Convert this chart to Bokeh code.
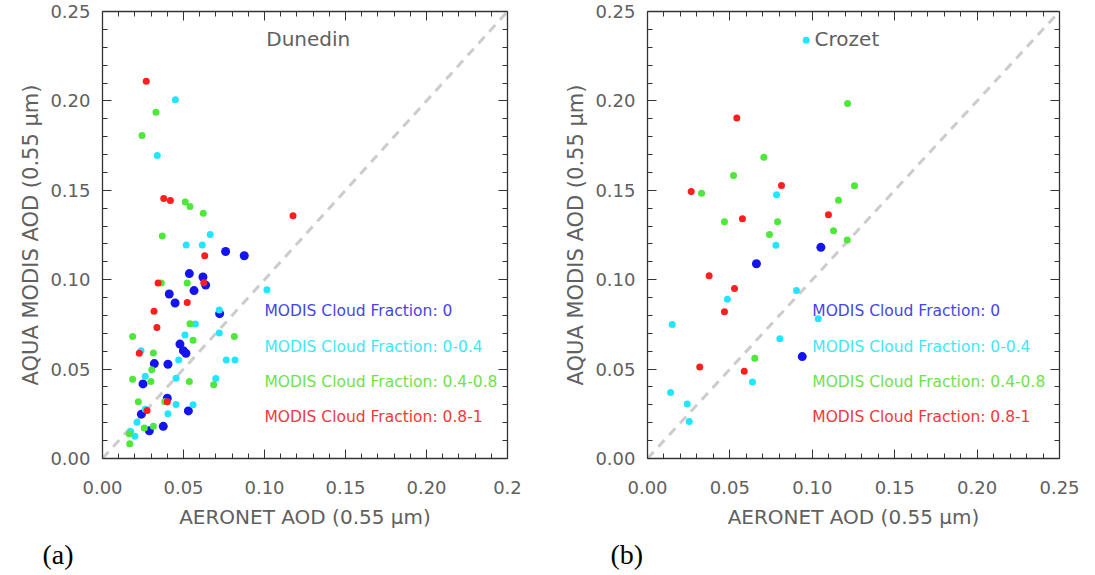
from bokeh.plotting import figure
from bokeh.layouts import row
from bokeh.models import Label, Title, LinearAxis, FixedTicker, CustomJSTickFormatter, Range1d
from bokeh.embed import file_html
from bokeh.resources import INLINE

# ---------------- data ----------------
tick_values = [0.0, 0.05, 0.10, 0.15, 0.20, 0.25]
minor_values = [0.01, 0.02, 0.03, 0.04, 0.06, 0.07, 0.08, 0.09, 0.11, 0.12, 0.13, 0.14,
                0.16, 0.17, 0.18, 0.19, 0.21, 0.22, 0.23, 0.24]
y_tick_labels = ["0.00", "0.05", "0.10", "0.15", "0.20", "0.25"]
x_tick_labels_a = ["0.00", "0.05", "0.10", "0.15", "0.20", "0.2"]
x_tick_labels_b = ["0.00", "0.05", "0.10", "0.15", "0.20", "0.25"]
one_to_one = [0.0, 0.25]

categories = ["MODIS Cloud Fraction: 0", "MODIS Cloud Fraction: 0-0.4",
              "MODIS Cloud Fraction: 0.4-0.8", "MODIS Cloud Fraction: 0.8-1"]

# Dunedin
dun_blue_x = [0.076, 0.0875, 0.0536, 0.062, 0.0637, 0.0565, 0.0412, 0.0448, 0.0723, 0.0478,
              0.0499, 0.0515, 0.032, 0.0404, 0.025, 0.040, 0.024, 0.053, 0.0375, 0.0289]
dun_blue_y = [0.1158, 0.1134, 0.1034, 0.1015, 0.097, 0.0939, 0.092, 0.087, 0.081, 0.064,
              0.0603, 0.0588, 0.0531, 0.0527, 0.0417, 0.0337, 0.0248, 0.0266, 0.018, 0.0155]
dun_cyan_x = [0.045, 0.0338, 0.0665, 0.0517, 0.0616, 0.1015, 0.0721, 0.0573, 0.0509, 0.0721,
              0.0238, 0.047, 0.0764, 0.0818, 0.0264, 0.0454, 0.0699, 0.0454, 0.0559, 0.0264,
              0.0404, 0.0213, 0.0174, 0.020]
dun_cyan_y = [0.2006, 0.1694, 0.1253, 0.1194, 0.1194, 0.0944, 0.0831, 0.0752, 0.0691, 0.0702,
              0.0603, 0.0551, 0.0551, 0.0551, 0.046, 0.0449, 0.0447, 0.0302, 0.030, 0.0276,
              0.025, 0.0203, 0.0151, 0.0125]
dun_green_x = [0.033, 0.0244, 0.0511, 0.054, 0.0622, 0.0369, 0.0363, 0.0523, 0.054, 0.0186,
               0.0559, 0.0814, 0.0314, 0.0304, 0.0186, 0.0299, 0.0536, 0.0686, 0.0221, 0.0384,
               0.0258, 0.0314, 0.0165, 0.0168]
dun_green_y = [0.1937, 0.1806, 0.1434, 0.141, 0.1372, 0.1244, 0.0981, 0.0981, 0.0754, 0.0682,
               0.0661, 0.0682, 0.059, 0.0496, 0.0443, 0.043, 0.043, 0.0412, 0.0318, 0.0318,
               0.0171, 0.018, 0.0138, 0.0082]
dun_red_x = [0.027, 0.0378, 0.0419, 0.0631, 0.1176, 0.0343, 0.0625, 0.0523, 0.0318, 0.0336,
             0.0227, 0.040, 0.0275]
dun_red_y = [0.211, 0.1454, 0.1443, 0.1134, 0.1358, 0.0981, 0.0983, 0.0872, 0.0823, 0.0732,
             0.0588, 0.0318, 0.0268]

# Crozet
cro_blue_x = [0.1052, 0.0661, 0.0939]
cro_blue_y = [0.1181, 0.1089, 0.057]
cro_cyan_x = [0.0963, 0.0783, 0.0779, 0.0904, 0.0485, 0.015, 0.1036, 0.0803, 0.0637, 0.014,
              0.0241, 0.0253]
cro_cyan_y = [0.2339, 0.1475, 0.1192, 0.094, 0.089, 0.075, 0.0782, 0.067, 0.0428, 0.0369,
              0.0305, 0.0207]
cro_green_x = [0.1214, 0.0706, 0.0522, 0.0328, 0.1159, 0.0467, 0.0789, 0.1129, 0.074, 0.1212,
               0.1256, 0.0651]
cro_green_y = [0.1985, 0.1685, 0.1583, 0.1484, 0.1445, 0.1324, 0.1324, 0.1274, 0.1253, 0.1222,
               0.1525, 0.056]
cro_red_x = [0.0542, 0.0265, 0.0813, 0.1098, 0.0576, 0.0374, 0.0528, 0.0467, 0.0317, 0.0587]
cro_red_y = [0.1905, 0.1493, 0.1527, 0.1363, 0.1341, 0.1022, 0.0951, 0.0821, 0.0512, 0.0488]

# ---------------- style ----------------
FONT = "DejaVu Sans"
GRAY = "#606060"
point_colors = ["#1414f0", "#22e6ff", "#4ee83a", "#ff1e1e"]
text_colors = ["#4646e6", "#3ee8f4", "#70e24c", "#f03a3a"]
point_sizes = [9, 7, 7, 7]
legend_x = 0.100
legend_y = [0.0823, 0.0622, 0.0426, 0.0231]


def style_axis(ax, labels=None, label_size="19px"):
    ax.ticker = FixedTicker(ticks=tick_values, minor_ticks=minor_values)
    ax.major_tick_in = 9
    ax.major_tick_out = 0
    ax.minor_tick_in = 5
    ax.minor_tick_out = 0
    ax.axis_line_color = "#333333"
    ax.major_tick_line_color = "#333333"
    ax.minor_tick_line_color = "#333333"
    ax.axis_line_width = 1.3
    if labels is None:
        ax.formatter = CustomJSTickFormatter(code="return ''")
        ax.major_label_standoff = 0
    else:
        ax.major_label_overrides = {v: l for v, l in zip(tick_values, labels)}
        ax.major_label_text_font = FONT
        ax.major_label_text_font_size = "18px"
        ax.major_label_text_color = GRAY
        ax.axis_label_text_font = FONT
        ax.axis_label_text_font_size = label_size
        ax.axis_label_text_color = GRAY
        ax.axis_label_text_font_style = "normal"


def make_panel(name, title_x, xs, ys, xlabels, width, bl, br, tag, tag_offset):
    p = figure(width=width, height=575, output_backend="svg", toolbar_location=None,
               x_range=Range1d(0, 0.25), y_range=Range1d(0, 0.25),
               min_border_left=bl, min_border_right=br, min_border_top=11,
               min_border_bottom=117, x_axis_label="AERONET AOD (0.55 μm)",
               y_axis_label="AQUA MODIS AOD (0.55 μm)")
    p.grid.visible = False
    p.outline_line_color = None
    p.background_fill_color = "white"
    p.border_fill_color = "white"
    style_axis(p.xaxis[0], xlabels, "20px")
    style_axis(p.yaxis[0], y_tick_labels, "21px")
    p.yaxis[0].major_label_standoff = 12
    p.yaxis[0].axis_label_standoff = 4
    p.xaxis[0].major_label_standoff = 22
    p.xaxis[0].axis_label_standoff = 8
    top = LinearAxis()
    style_axis(top)
    p.add_layout(top, "above")
    right = LinearAxis()
    style_axis(right)
    p.add_layout(right, "right")

    p.line(one_to_one, one_to_one, line_color="#cccccc", line_width=3, line_dash="9 7")
    for i in range(4):
        p.scatter(xs[i], ys[i], size=point_sizes[i], color=point_colors[i], line_width=0)
        p.add_layout(Label(x=legend_x, y=legend_y[i], text=categories[i],
                           text_color=text_colors[i], text_font=FONT,
                           text_font_size="15.5px", text_baseline="middle"))
    p.add_layout(Label(x=title_x, y=0.2346, text=name, text_color=GRAY, text_font=FONT,
                       text_font_size="20px", text_align="center", text_baseline="middle"))
    p.add_layout(Title(text=tag, align="left", offset=tag_offset, text_font="Liberation Serif",
                       text_font_size="28px", text_font_style="normal", text_color="black"),
                 "below")
    return p


p1 = make_panel("Dunedin", 0.127,
                [dun_blue_x, dun_cyan_x, dun_green_x, dun_red_x],
                [dun_blue_y, dun_cyan_y, dun_green_y, dun_red_y],
                x_tick_labels_a, 560, 102, 53, "(a)", -60)
p2 = make_panel("Crozet", 0.121,
                [cro_blue_x, cro_cyan_x, cro_green_x, cro_red_x],
                [cro_blue_y, cro_cyan_y, cro_green_y, cro_red_y],
                x_tick_labels_b, 535, 87, 36, "(b)", -37)

layout = row(p1, p2)
open("out.html", "w").write(file_html(layout, INLINE))
